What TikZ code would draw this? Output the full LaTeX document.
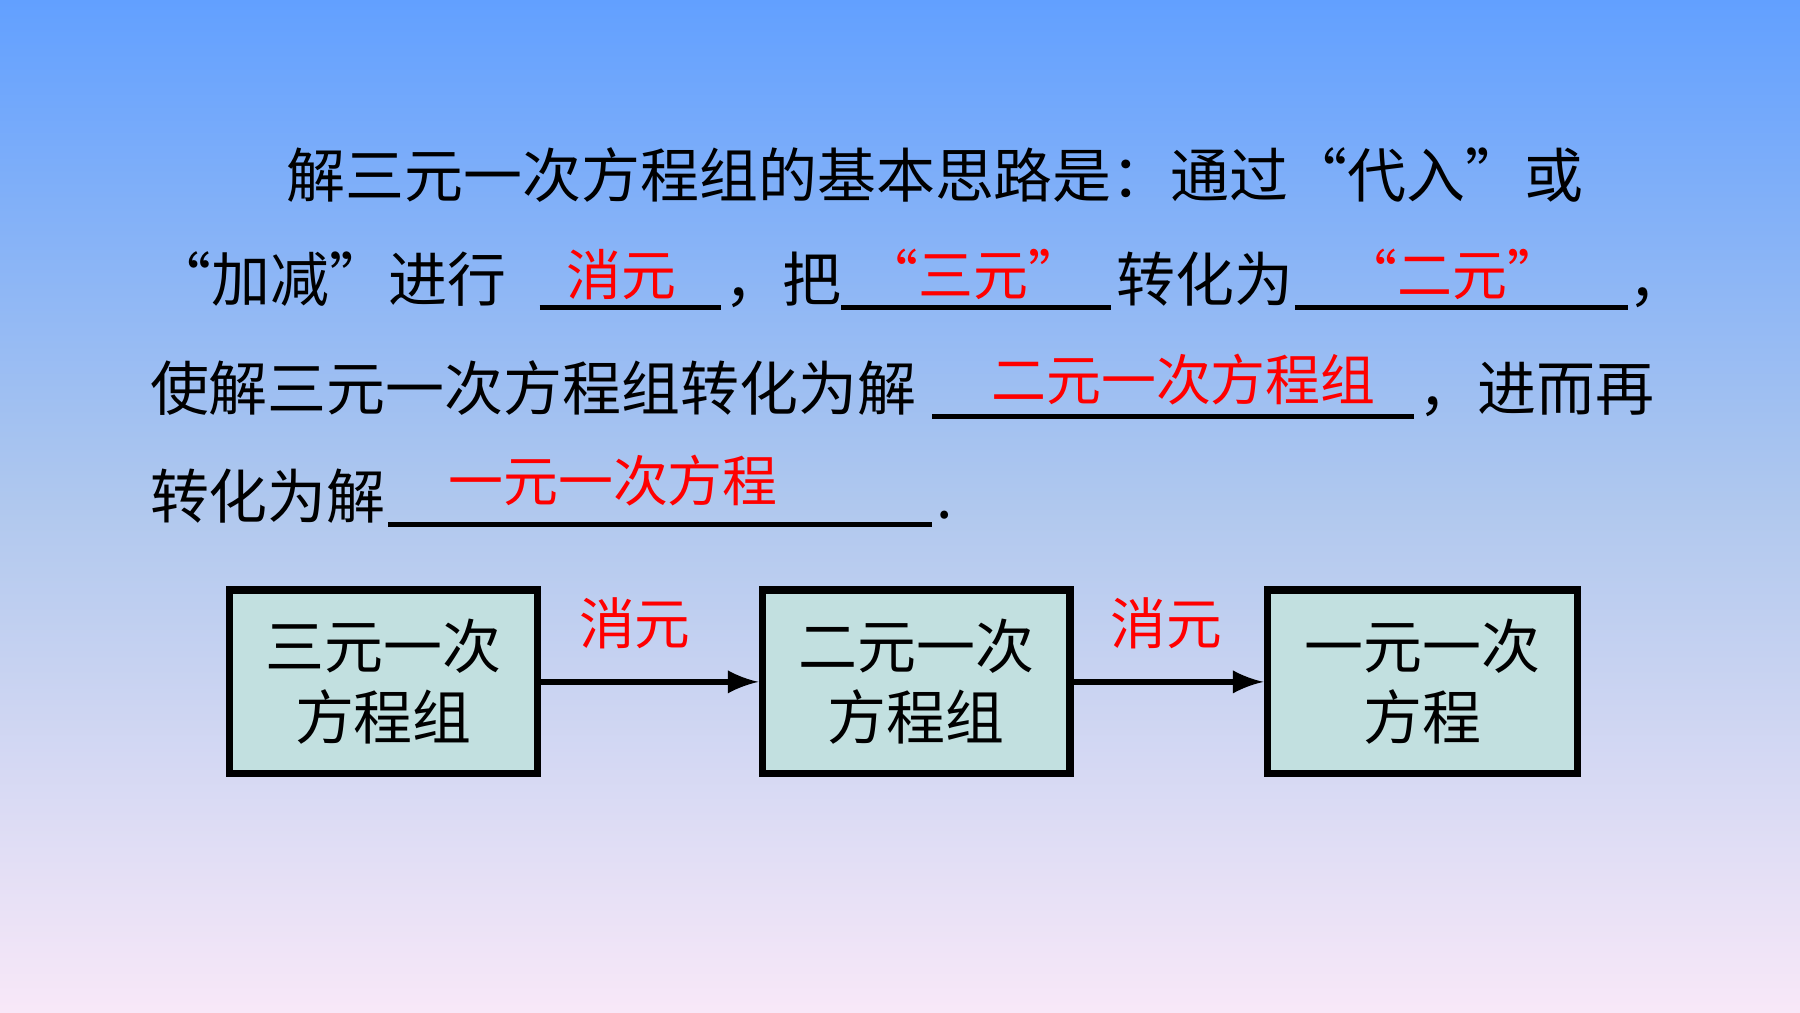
\documentclass[tikz,border=0pt]{standalone}
\usepackage{fontspec}
\newfontfamily\cjk{Noto Sans CJK SC}
\definecolor{bgtop}{HTML}{62A0FF}
\definecolor{bgmid}{HTML}{B0C8EE}
\definecolor{bgbot}{HTML}{F8E8F8}
\definecolor{boxfill}{HTML}{C2E0E0}
\definecolor{ans}{HTML}{FF0000}
\begin{document}
\begin{tikzpicture}[x=0.01cm,y=-0.01cm,
  txt/.style={inner sep=0pt,anchor=base west,font=\cjk\fontsize{14.6}{16}\selectfont},
  red/.style={inner sep=0pt,anchor=base,text=ans,font=\cjk\fontsize{13.6}{15}\selectfont},
  blank/.style={line width=1.2pt},
  box/.style={draw=black,line width=1.8pt,fill=boxfill,minimum height=1.6cm,inner sep=0pt,align=center,font=\cjk\fontsize{14.6}{17.5}\selectfont},
  arr/.style={-latex,line width=1.6pt},
  lbl/.style={inner sep=0pt,text=ans,font=\cjk\fontsize{13.8}{15}\selectfont}]
\shade[top color=bgtop,bottom color=bgbot,middle color=bgmid] (0,0) rectangle (1568,882);
\useasboundingbox (0,0) rectangle (1568,882);
% line 1
\node[txt,anchor=base east] (l1) at (1380,172) {解三元一次方程组的基本思路是：通过“代入”或};
% line 2
\node[txt,anchor=base east] (l2a) at (442,263) {“加减”进行};
\draw[blank] (470,268) coordinate (u1a) -- (628,268) coordinate (u1b);
\node[red] (r1) at (541,257) {消元};
\node[txt] (l2b) at (630,263) {，把};
\draw[blank] (733,268) coordinate (u2a) -- (968,268) coordinate (u2b);
\node[red] (r2) at (848,257) {“三元”};
\node[txt] (l2c) at (972,263) {转化为};
\draw[blank] (1128,268) coordinate (u3a) -- (1418,268) coordinate (u3b);
\node[red] (r3) at (1265,257) {“二元”};
\node[txt] (l2d) at (1418,263) {，};
% line 3
\node[txt] (l3a) at (130,358) {使解三元一次方程组转化为解};
\draw[blank] (812,363) coordinate (u4a) -- (1232,363) coordinate (u4b);
\node[red] (r4) at (1031,349) {二元一次方程组};
\node[txt] (l3b) at (1235,358) {，进而再};
% line 4
\node[txt] (l4a) at (130,452) {转化为解};
\draw[blank] (338,457) coordinate (u5a) -- (812,457) coordinate (u5b);
\node[red] (r5) at (534,437) {一元一次方程};
\node[txt] (l4b) at (815,452) {.};
% boxes
\node[box,minimum width=2.68cm] (b1) at (334,594) {三元一次\\方程组};
\node[box,minimum width=2.68cm] (b2) at (798,594) {二元一次\\方程组};
\node[box,minimum width=2.70cm] (b3) at (1239,594) {一元一次\\方程};
\draw[arr] (b1) -- (b2);
\draw[arr] (b2) -- (b3);
\node[lbl] (m1) at (553,543) {消元};
\node[lbl] (m2) at (1016,543) {消元};
\end{tikzpicture}
\end{document}
